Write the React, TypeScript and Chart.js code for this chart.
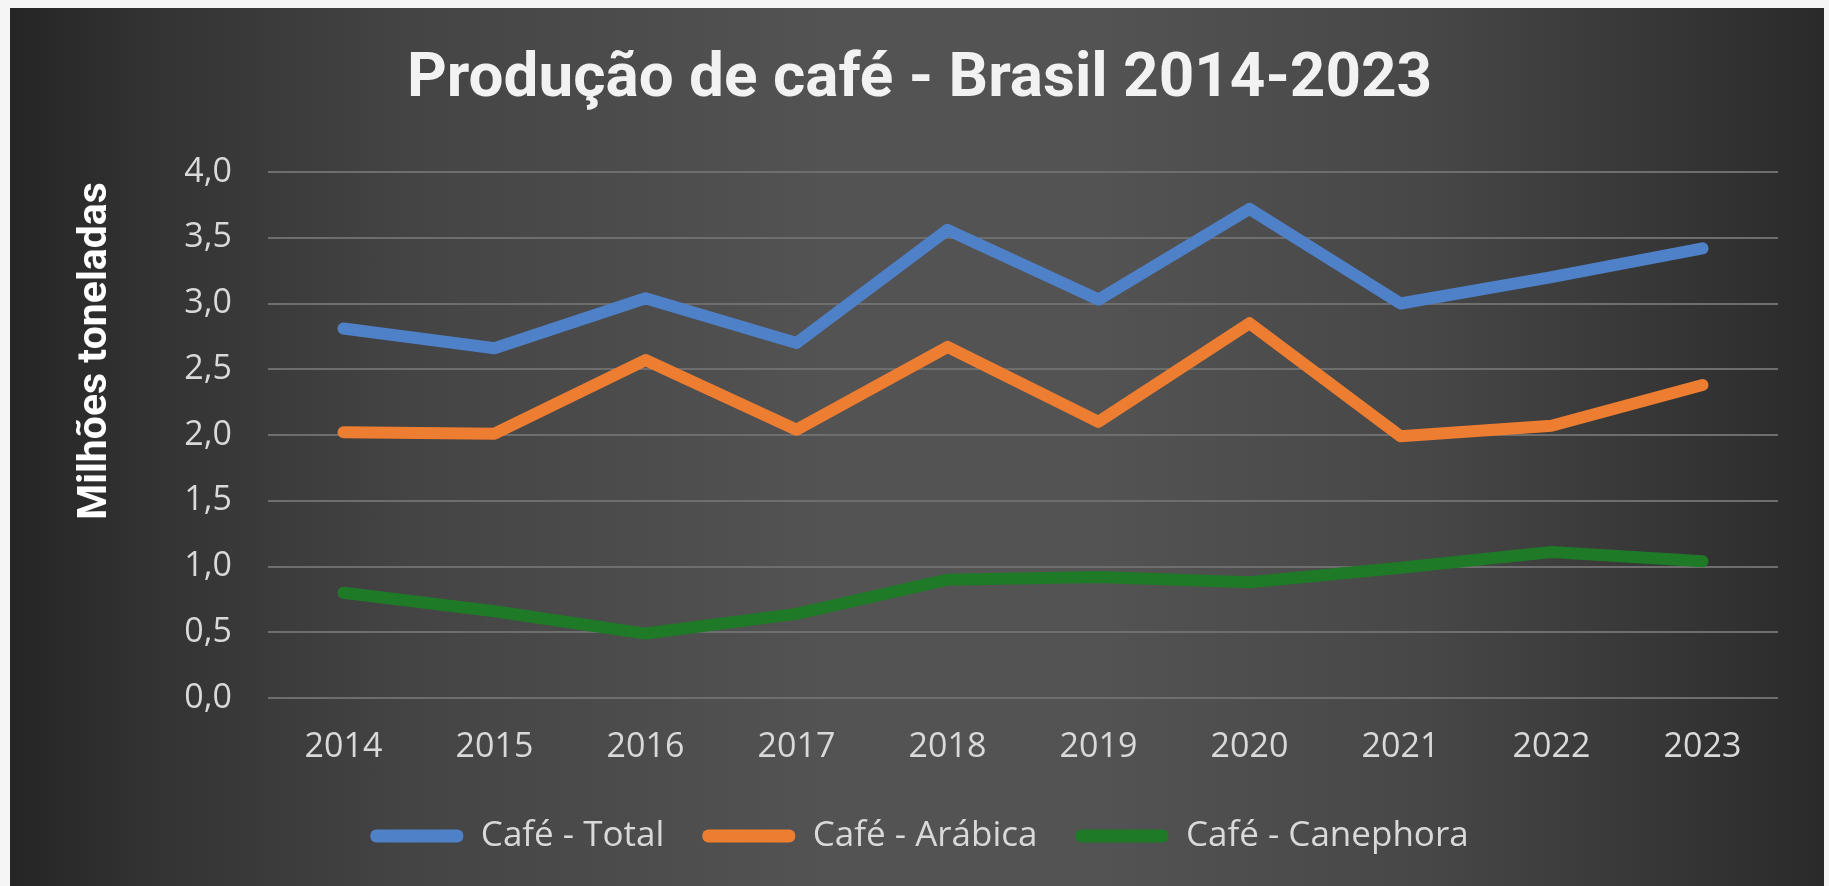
import React, { useEffect, useRef } from "react";
import { Chart, registerables } from "chart.js";

Chart.register(...registerables);

const TITLE = "Produção de café - Brasil 2014-2023";
const Y_TITLE = "Milhões toneladas ";
const YEARS = ["2014", "2015", "2016", "2017", "2018", "2019", "2020", "2021", "2022", "2023"];
const SERIES_NAMES = ["Café - Total", "Café - Arábica", "Café - Canephora"];
const TOTAL = [2.81, 2.66, 3.04, 2.70, 3.56, 3.03, 3.72, 3.00, 3.20, 3.42];
const ARABICA = [2.02, 2.01, 2.57, 2.04, 2.67, 2.10, 2.85, 1.99, 2.07, 2.38];
const CANEPHORA = [0.80, 0.66, 0.49, 0.64, 0.90, 0.92, 0.88, 0.99, 1.11, 1.04];
const SERIES_COLORS = ["#4f81c9", "#ed7d31", "#1f7a27"];
const Y_MIN = 0;
const Y_MAX = 4;
const Y_STEP = 0.5;

const CANVAS_W = 1819;
const CANVAS_H = 878;

export default function App() {
  const ref = useRef<HTMLCanvasElement | null>(null);

  useEffect(() => {
    document.body.style.margin = "0";
    document.body.style.background = "#f5f5f5";
    const canvas = ref.current;
    if (!canvas) return;
    const values = [TOTAL, ARABICA, CANEPHORA];
    const tickFont = { family: "'Open Sans', sans-serif", size: 34 };
    const chart = new Chart(canvas, {
      type: "line",
      data: {
        labels: YEARS,
        datasets: values.map((data, i) => ({
          label: SERIES_NAMES[i],
          data,
          borderColor: SERIES_COLORS[i],
          backgroundColor: SERIES_COLORS[i],
          borderWidth: 12,
          borderCapStyle: "round",
          borderJoinStyle: "round",
          pointRadius: 0,
          pointHoverRadius: 0,
          tension: 0,
          fill: false,
          yAxisID: "y",
        })),
      },
      options: {
        responsive: false,
        animation: false,
        layout: { padding: { left: 0, right: 0, top: 0, bottom: 22.5 } },
        plugins: {
          tooltip: { enabled: false },
          title: {
            display: true,
            text: TITLE,
            color: "#f2f2f2",
            font: { family: "Roboto, sans-serif", size: 62, weight: "bold" },
            padding: { top: 35.6, bottom: 54 },
          },
          legend: {
            display: true,
            position: "bottom",
            labels: {
              color: "#d9d9d9",
              font: { family: "'Open Sans', sans-serif", size: 35 },
              boxWidth: 93,
              boxHeight: 13,
              padding: 38,
              useBorderRadius: true,
              borderRadius: 6,
              generateLabels: (c: any) =>
                c.data.datasets.map((ds: any, i: number) => ({
                  text: ds.label,
                  fillStyle: ds.borderColor,
                  strokeStyle: ds.borderColor,
                  lineWidth: 0,
                  hidden: false,
                  datasetIndex: i,
                  fontColor: "#d9d9d9",
                  borderRadius: 6,
                })),
            },
          },
        },
        scales: {
          x: {
            type: "category",
            offset: true,
            grid: { display: false, drawTicks: false },
            border: { display: false },
            ticks: { color: "#d9d9d9", font: tickFont, padding: 29, maxRotation: 0 },
            afterFit: (s: any) => {
              s.height = 82.5;
            },
          },
          y: {
            type: "linear",
            position: "left",
            min: Y_MIN,
            max: Y_MAX,
            grid: { color: "#6e6e6e", lineWidth: 2, drawTicks: false },
            border: { display: false },
            ticks: {
              stepSize: Y_STEP,
              color: "#d9d9d9",
              font: tickFont,
              padding: 36,
              callback: (v: any) => Number(v).toFixed(1).replace(".", ","),
            },
            title: {
              display: true,
              text: Y_TITLE,
              align: "end",
              color: "#ffffff",
              font: { family: "Roboto, sans-serif", size: 41, weight: "bold" },
              padding: { top: 61, bottom: 0 },
            },
            afterFit: (s: any) => {
              s.width = 258;
            },
          },
          yRight: {
            type: "linear",
            position: "right",
            display: true,
            grid: { display: false, drawTicks: false },
            border: { display: false },
            ticks: { display: false },
            afterFit: (s: any) => {
              s.width = 51;
            },
          },
        },
      } as any,
    });
    return () => chart.destroy();
  }, []);

  return (
    <div>
      <div
        style={{
          position: "fixed",
          left: 10,
          top: 8,
          width: 1814,
          height: 878,
          background:
            "linear-gradient(to right, #252525 0%, #333333 8%, #444444 22%, #535353 45%, #535353 60%, #474747 78%, #353535 92%, #2a2a2a 100%)",
        }}
      />
      <canvas
        ref={ref}
        width={CANVAS_W}
        height={CANVAS_H}
        style={{ position: "fixed", left: 10, top: 8, width: CANVAS_W, height: CANVAS_H }}
      />
    </div>
  );
}
